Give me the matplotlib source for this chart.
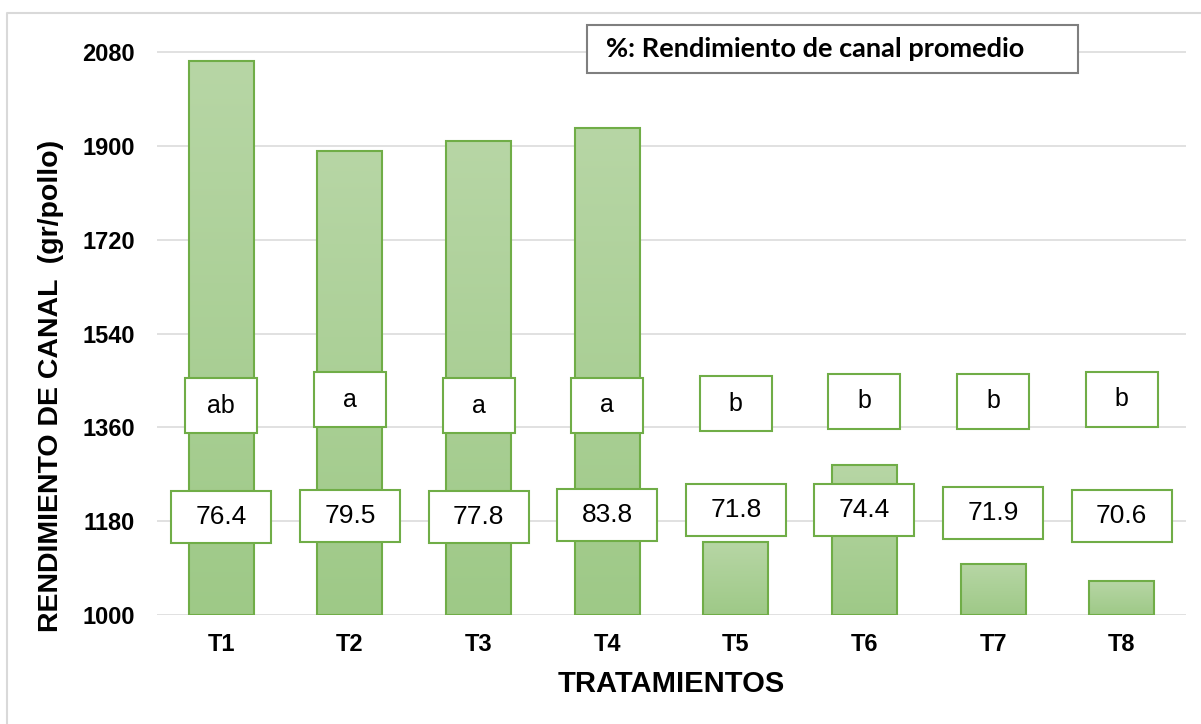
import matplotlib
matplotlib.use("Agg")
import matplotlib.pyplot as plt
import numpy as np
from matplotlib.patches import Rectangle
from matplotlib.lines import Line2D
from matplotlib.colors import LinearSegmentedColormap

# ---- data ----
categories = ["T1", "T2", "T3", "T4", "T5", "T6", "T7", "T8"]
rendimiento = [2063, 1891, 1909, 1935, 1140, 1287, 1097, 1064]
porcentaje = ["76.4", "79.5", "77.8", "83.8", "71.8", "74.4", "71.9", "70.6"]
letras = ["ab", "a", "a", "a", "b", "b", "b", "b"]
yticks = [1000, 1180, 1360, 1540, 1720, 1900, 2080]
# label row placement (data units)
letra_y = [1401, 1413, 1401, 1402, 1405, 1410, 1410, 1414]
pct_y = [1187, 1189, 1187, 1192, 1201, 1201, 1196, 1189]

W, H = 1201, 724
fig = plt.figure(figsize=(W / 100, H / 100), dpi=100)
ymin, ymax = 1000, 2150
ax_bottom_px = 614.7
ax_top_px = 15.9
ax = fig.add_axes([157 / W, (H - ax_bottom_px) / H, (1186 - 157) / W, (ax_bottom_px - ax_top_px) / H])
ax.set_xlim(-0.5, 7.5)
ax.set_ylim(ymin, ymax)

font = "Liberation Sans"
green = "#70ad47"

# gridlines
for t in yticks:
    ax.axhline(t, color="#d9d9d9", lw=1.1, zorder=1)

x = np.arange(len(categories))
bw = 0.505
bars = ax.bar(x, np.array(rendimiento) - ymin, bottom=ymin, width=bw,
              facecolor="none", edgecolor=green, lw=1.5, zorder=3)
cmap = LinearSegmentedColormap.from_list("g", ["#9ec987", "#b7d6a5"])
grad = np.linspace(0, 1, 256).reshape(-1, 1)
for b in bars:
    x0, y0 = b.get_x(), b.get_y()
    im = ax.imshow(grad, cmap=cmap, origin="lower", aspect="auto",
                   extent=[x0, x0 + b.get_width(), y0, y0 + b.get_height()], zorder=2)
    im.set_clip_path(b)
ax.set_xlim(-0.5, 7.5)
ax.set_ylim(ymin, ymax)

px_x = 1029 / 8.0      # px per x unit
px_y = (ax_bottom_px - ax_top_px) / (ymax - ymin)

# letter boxes
lw_box, lh_box = 72 / px_x, 55 / px_y
vw_box, vh_box = 100 / px_x, 52 / px_y
for i in range(len(categories)):
    ax.add_patch(Rectangle((x[i] - lw_box / 2, letra_y[i] - lh_box / 2), lw_box, lh_box,
                           facecolor="white", edgecolor=green, lw=1.5, zorder=4))
    ax.text(x[i], letra_y[i], letras[i], ha="center", va="center", fontsize=18,
            family=font, zorder=5)
    ax.add_patch(Rectangle((x[i] - vw_box / 2, pct_y[i] - vh_box / 2), vw_box, vh_box,
                           facecolor="white", edgecolor=green, lw=1.5, zorder=4))
    ax.text(x[i], pct_y[i], porcentaje[i], ha="center", va="center", fontsize=19,
            family=font, zorder=5)

for s in ax.spines.values():
    s.set_visible(False)
ax.set_yticks(yticks)
ax.set_yticklabels([str(t) for t in yticks], fontsize=17, fontweight="bold", family=font)
ax.set_xticks(x)
ax.set_xticklabels(categories, fontsize=17, fontweight="bold", family=font)
ax.tick_params(axis="y", length=0, pad=16)
ax.tick_params(axis="x", length=0, pad=13)

fig.text(671 / W, 1 - 684 / H, "TRATAMIENTOS", ha="center", va="center",
         fontsize=21, fontweight="bold", family=font)
fig.text(51 / W, 1 - 386 / H, "RENDIMIENTO DE CANAL  (gr/pollo)", ha="center", va="center",
         rotation=90, fontsize=20.5, fontweight="bold", family=font)

# legend-like note box
fig.patches.append(Rectangle((587 / W, 1 - 73 / H), (1078 - 587) / W, 48 / H,
                             transform=fig.transFigure, facecolor="white",
                             edgecolor="#7f7f7f", lw=1.5, zorder=10))
fig.text(606 / W, 1 - 49 / H, "%: Rendimiento de canal promedio", ha="left", va="center",
         fontsize=19.5, fontweight="bold", family="Lato", zorder=11)

# outer chart border
fig.lines.append(Line2D([7 / W, 7 / W, 1.0], [0, 1 - 13 / H, 1 - 13 / H],
                        transform=fig.transFigure, color="#d9d9d9", lw=1.5))

fig.savefig("out.png", dpi=100)
